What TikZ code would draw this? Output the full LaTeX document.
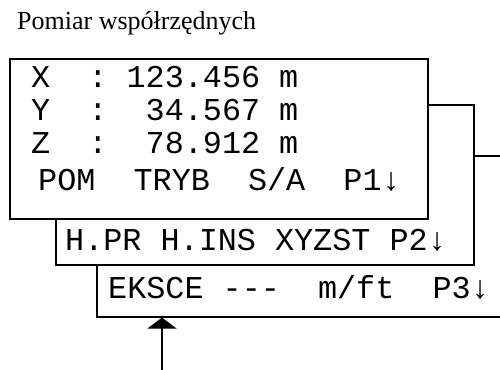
\documentclass[tikz,border=0pt]{standalone}
\usepackage{fontspec}
\setmainfont{Liberation Serif}
\setmonofont{Liberation Mono}
\usetikzlibrary{arrows.meta}
\begin{document}
\begin{tikzpicture}[x=1pt,y=-1pt,
  panel/.style={draw, fill=white, line width=1.6pt, inner sep=0pt, anchor=north west},
  lcd/.style={inner sep=0pt, anchor=base west, font=\ttfamily\fontsize{31.8}{34}\selectfont},
  title/.style={inner sep=0pt, anchor=base west, font=\fontsize{26}{30}\selectfont},
  link/.style={line width=1.6pt, -{Triangle[width=29pt,length=11pt]}}]
\useasboundingbox (0,0) rectangle (500,369);
\clip (0,0) rectangle (500,369);
\node[title] (ttl) at (17,30) {Pomiar współrzędnych};
\node[panel, minimum width=424pt, minimum height=161pt] (box3) at (96,155) {};
\node[panel, minimum width=418pt, minimum height=160pt] (box2) at (55,104) {};
\node[panel, minimum width=418pt, minimum height=160pt] (box1) at (9,58) {};
\node[lcd] (r1) at (31,87) {X~~:~123.456~m};
\node[lcd] (r2) at (31,120) {Y~~:~~34.567~m};
\node[lcd] (r3) at (31,153) {Z~~:~~78.912~m};
\node[lcd] (r4) at (38,190) {POM~~TRYB~~S/A~~P1↓};
\node[lcd] (r5) at (65,250) {H.PR~H.INS~XYZST~P2↓};
\node[lcd] (r6) at (108,298) {EKSCE~---~~m/ft~~P3↓};
\coordinate (src) at (162,372);
\draw[link] (src) -- (box3.south -| src);
\end{tikzpicture}
\end{document}
